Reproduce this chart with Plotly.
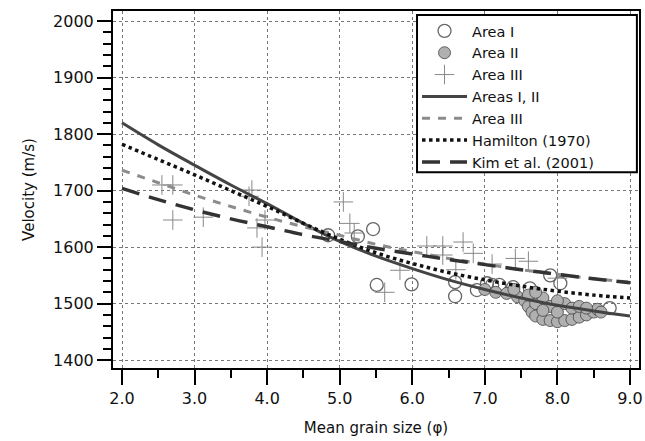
import plotly.graph_objects as go

# Regression curves
curve_x = [2.0, 2.5, 3.0, 3.5, 4.0, 4.5, 5.0, 5.5, 6.0, 6.5, 7.0, 7.5, 8.0, 8.5, 9.0]
areas12_v = [1820, 1781, 1745, 1710, 1677, 1642, 1610, 1584, 1562, 1542, 1525, 1510, 1497, 1487, 1478]
area3_v = [1736, 1714, 1692, 1672, 1653, 1636, 1621, 1605, 1592, 1580, 1570, 1560, 1552, 1544, 1538]
hamilton_v = [1782, 1755, 1728, 1700, 1672, 1642, 1614, 1590, 1571, 1555, 1542, 1531, 1522, 1515, 1510]
kim_v = [1704, 1684, 1666, 1650, 1636, 1622, 1610, 1598, 1588, 1578, 1569, 1560, 1552, 1544, 1537]

# Scatter data
area1_x = [4.84, 5.25, 5.46, 5.51, 5.99, 6.59, 6.59, 6.89, 7.03, 7.10, 7.20, 7.39, 7.62, 7.90, 8.04, 8.72]
area1_y = [1621, 1619, 1632, 1533, 1534, 1538, 1513, 1524, 1536, 1533, 1533, 1529, 1527, 1550, 1536, 1492]

area2_x = [7.0, 7.15, 7.3, 7.45, 7.55, 7.6, 7.65, 7.7, 7.8, 7.9, 8.0, 8.1, 8.2, 8.3, 8.4, 8.5, 8.55,
           7.7, 7.8, 7.9, 8.0, 8.1, 8.2, 8.3, 7.6, 7.8, 8.0, 8.4, 7.4, 7.7, 8.6]
area2_y = [1525, 1520, 1518, 1512, 1505, 1495, 1485, 1478, 1472, 1470, 1468, 1470, 1472, 1476, 1480, 1485, 1490,
           1500, 1510, 1495, 1485, 1500, 1492, 1495, 1515, 1488, 1505, 1492, 1525, 1520, 1485]

area3_x = [2.55, 2.70, 2.70, 3.12, 3.79, 3.75, 3.86, 3.93, 3.97, 5.05, 5.14, 5.20, 5.62, 5.83, 6.20, 6.42,
           6.42, 6.70, 6.84, 6.60, 7.42, 7.10, 7.60, 8.00]
area3_y = [1710, 1710, 1648, 1653, 1701, 1690, 1634, 1600, 1648, 1680, 1642, 1625, 1520, 1559, 1602, 1602,
           1586, 1609, 1589, 1560, 1580, 1570, 1575, 1545]

x_ticks = [2, 3, 4, 5, 6, 7, 8, 9]
x_tick_text = ["2.0", "3.0", "4.0", "5.0", "6.0", "7.0", "8.0", "9.0"]
y_ticks = [1400, 1500, 1600, 1700, 1800, 1900, 2000]

fig = go.Figure()

fig.add_trace(go.Scatter(x=area1_x, y=area1_y, mode="markers", name="Area I",
                         marker=dict(symbol="circle-open", size=13, color="#666666",
                                     line=dict(width=1.3, color="#666666"))))
fig.add_trace(go.Scatter(x=area2_x, y=area2_y, mode="markers", name="Area II",
                         marker=dict(symbol="circle", size=12, color="#b0b0b0",
                                     line=dict(width=0.8, color="#444444"))))
fig.add_trace(go.Scatter(x=area3_x, y=area3_y, mode="markers", name="Area III",
                         marker=dict(symbol="cross-thin", size=14,
                                     line=dict(width=1, color="#888888"))))
fig.add_trace(go.Scatter(x=curve_x, y=areas12_v, mode="lines", name="Areas I, II",
                         line=dict(color="#444444", width=3, shape="spline")))
fig.add_trace(go.Scatter(x=curve_x, y=area3_v, mode="lines", name="Area III",
                         line=dict(color="#8c8c8c", width=3, dash="8px,8px", shape="spline")))
fig.add_trace(go.Scatter(x=curve_x, y=hamilton_v, mode="lines", name="Hamilton (1970)",
                         line=dict(color="#111111", width=3.5, dash="dot", shape="spline")))
fig.add_trace(go.Scatter(x=curve_x, y=kim_v, mode="lines", name="Kim et al. (2001)",
                         line=dict(color="#333333", width=3.5, dash="18px,10px", shape="spline")))

font_family = "DejaVu Sans, Arial, sans-serif"

# legend frame drawn as a paper-space box behind the legend entries
fig.add_shape(type="rect", xref="paper", yref="paper", x0=0.578, x1=0.996, y0=0.548, y1=0.989,
              fillcolor="white", line=dict(color="black", width=2), layer="above")

fig.update_layout(
    width=645, height=441,
    margin=dict(l=113, r=6, t=11, b=73),
    paper_bgcolor="white", plot_bgcolor="white",
    font=dict(family=font_family, size=15, color="#111111"),
    showlegend=True,
    legend=dict(x=0.578, y=0.989, xanchor="left", yanchor="top",
                bgcolor="rgba(0,0,0,0)", borderwidth=0,
                font=dict(size=14.5, family=font_family), itemwidth=45,
                tracegroupgap=0),
    xaxis=dict(range=[1.876, 9.124], tickvals=x_ticks, ticktext=x_tick_text,
               automargin=False, ticklabeloverflow="allow",
               showline=True, linecolor="black", linewidth=2, mirror=True,
               ticks="outside", ticklen=15, tickwidth=2, tickcolor="black",
               minor=dict(dtick=0.5, tick0=2, ticks="outside", ticklen=8, tickwidth=2, tickcolor="black",
                          showgrid=False),
               showgrid=True, gridcolor="#777777", griddash="dot", gridwidth=1,
               zeroline=False, tickfont=dict(size=16),
               title=dict(text="Mean grain size (\u03c6)", font=dict(size=15))),
    yaxis=dict(range=[1386, 2018], tickvals=y_ticks,
               automargin=False, ticklabeloverflow="allow",
               showline=True, linecolor="black", linewidth=2, mirror=True,
               ticks="outside", ticklen=14, tickwidth=2, tickcolor="black",
               minor=dict(dtick=20, tick0=1400, ticks="outside", ticklen=8, tickwidth=2, tickcolor="black",
                          showgrid=False),
               showgrid=True, gridcolor="#777777", griddash="dot", gridwidth=1,
               zeroline=False, tickfont=dict(size=16),
               title=dict(text="Velocity (m/s)", font=dict(size=15))),
)

fig.write_html("out.html", config={"displayModeBar": False, "staticPlot": True},
               post_script="document.body.style.margin='0';document.body.style.overflow='hidden';")
